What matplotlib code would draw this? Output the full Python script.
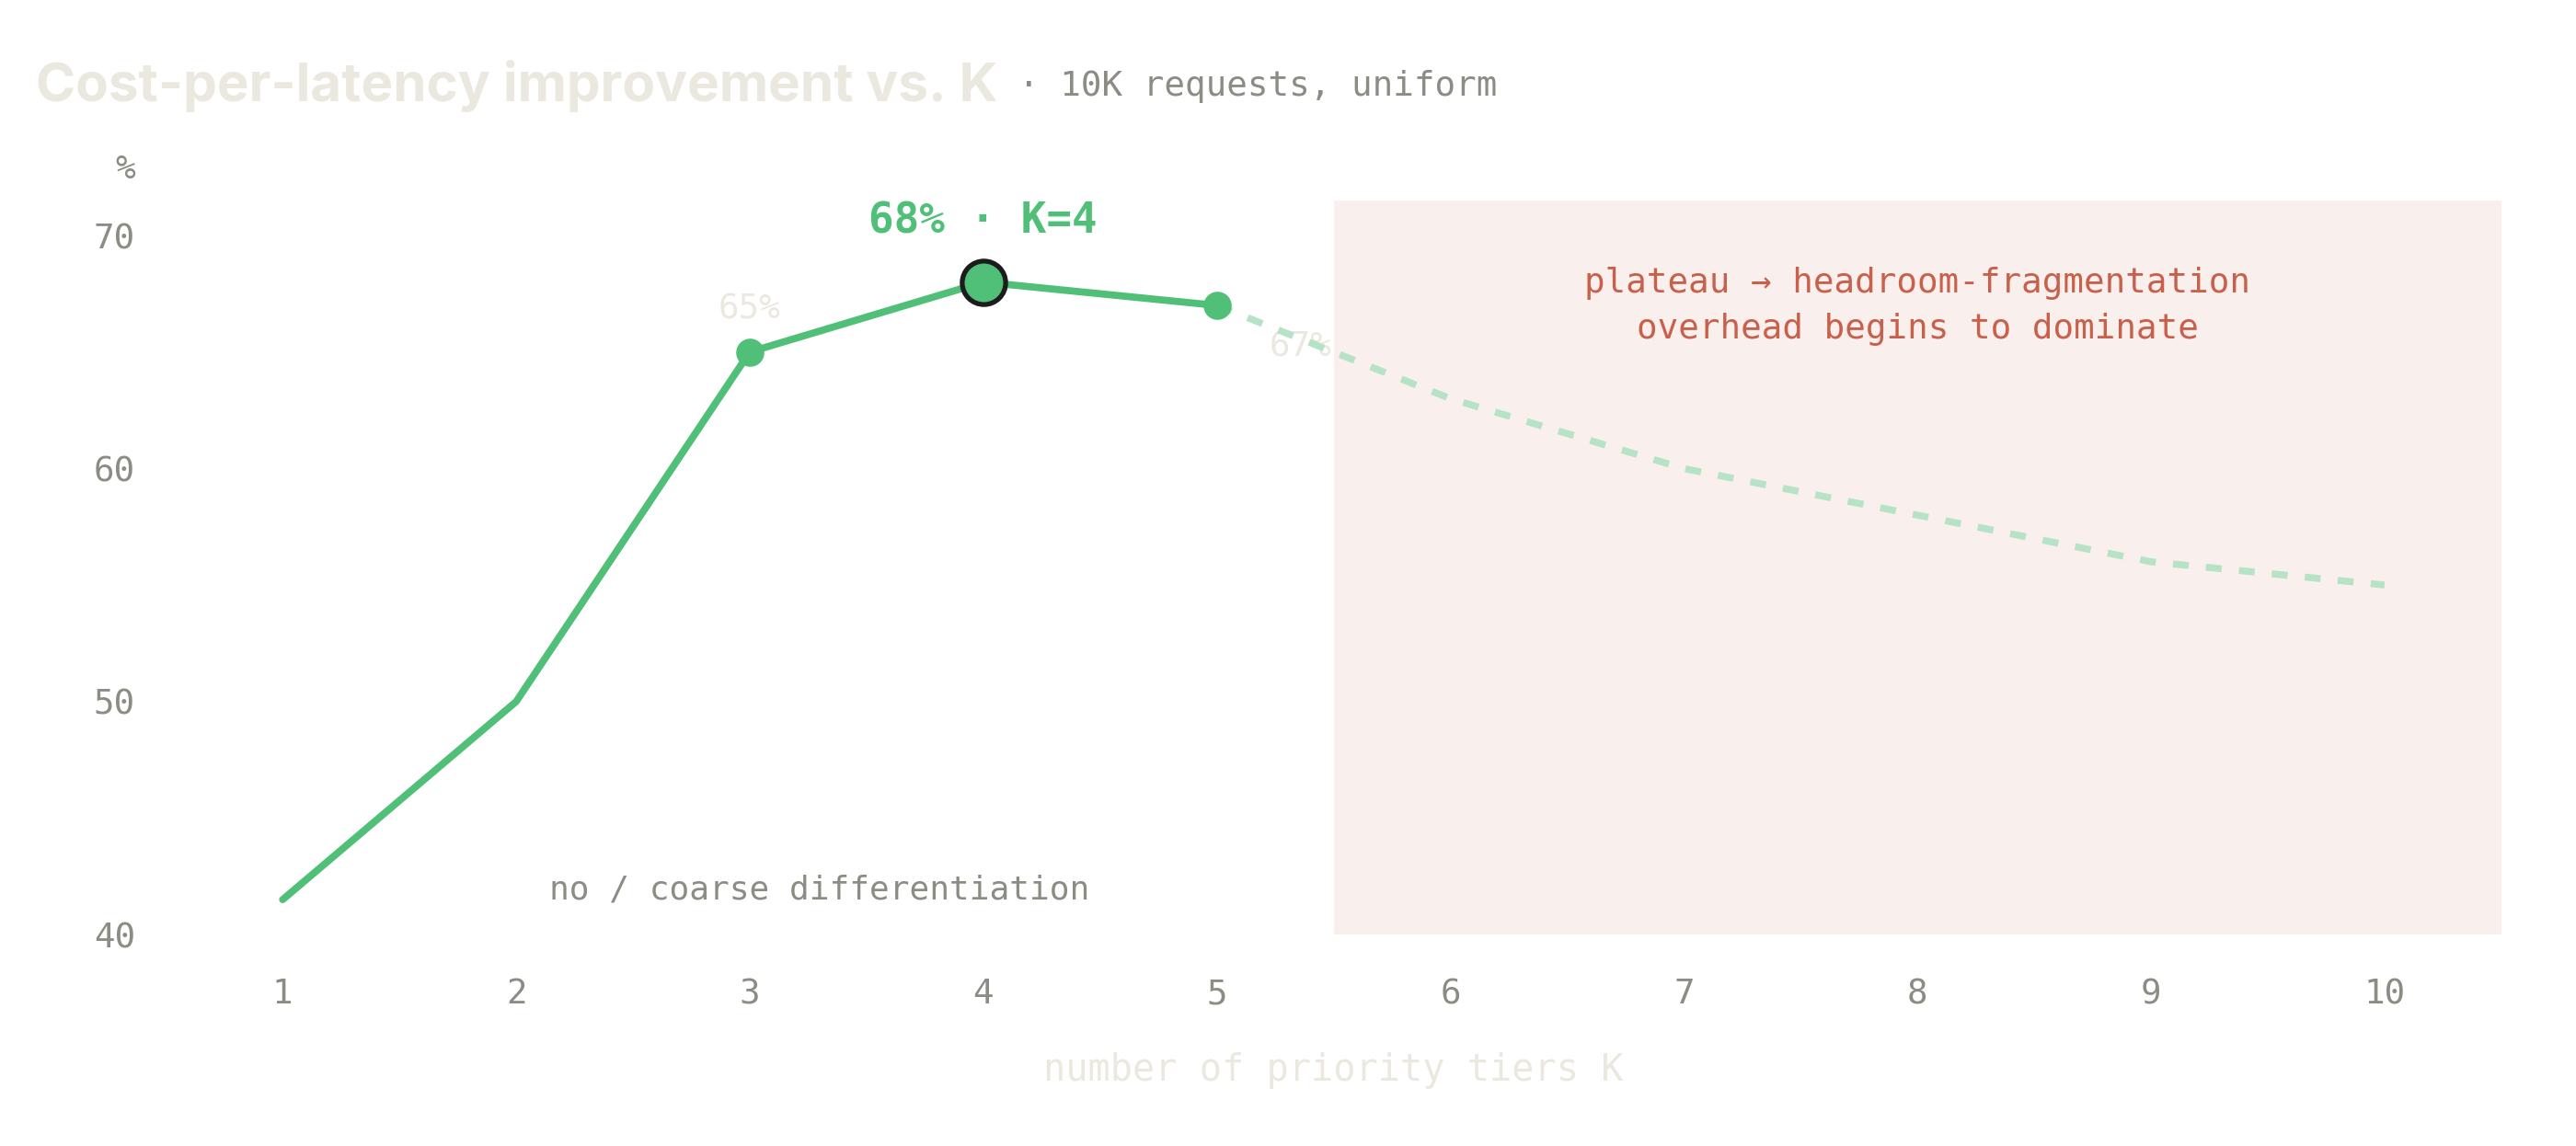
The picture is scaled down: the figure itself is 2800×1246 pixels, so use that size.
import numpy as np
import matplotlib
matplotlib.use("Agg")
import matplotlib.pyplot as plt

# 数据
k_solid = [1, 2, 3, 4, 5]
v_solid = [41.5, 50, 65, 68, 67]
k_dash = [5, 6, 7, 8, 9, 10]
v_dash = [67, 63, 60, 58, 56, 55]
k_marks = [3, 5]
v_marks = [65, 67]
k_best, v_best = 4, 68
x_ticks = list(range(1, 11))
y_ticks = [40, 50, 60, 70]
plateau = (5.5, 10.5)

GREEN = "#50bf78"
GREEN_LT = "#b6e2c6"
PINK = "#f9efec"
RED = "#c8604c"
GRAY = "#8c8c84"
BEIGE = "#ebe8e0"
MONO = "DejaVu Sans Mono"

fig = plt.figure(figsize=(14, 6.23), dpi=200)
ax = fig.add_axes([0.0644, 0.1845, 0.9066, 0.6405])
ax.set_xlim(0.5, 10.5)
ax.set_ylim(40, 71.5)

ax.axvspan(*plateau, color=PINK, lw=0, zorder=0)

ax.plot(k_dash, v_dash, color=GREEN_LT, lw=2.7, ls=(0, (2.3, 2.5)), zorder=2)
ax.plot(k_solid, v_solid, color=GREEN, lw=2.8, solid_capstyle="round",
        solid_joinstyle="round", zorder=3)
ax.plot(k_marks, v_marks, "o", color=GREEN, ms=10, zorder=4)
ax.plot([k_best], [v_best], "o", mfc=GREEN, mec="#1c1c1c", mew=1.9, ms=17, zorder=5)

# 标注
ax.text(k_marks[0], v_marks[0] + 1.1, f"{v_marks[0]}%", color=BEIGE, fontsize=13.5,
        family=MONO, ha="center", va="bottom")
ax.text(k_marks[1] + 0.36, v_marks[1] - 1.8, f"{v_marks[1]}%", color=BEIGE, fontsize=13.5,
        family=MONO, ha="center", va="center", zorder=1)
ax.text(k_best, v_best + 1.7, f"{v_best}% · K={k_best}", color=GREEN, fontsize=16.5,
        family=MONO, weight="bold", ha="center", va="bottom")
ax.text(3.3, 41.9, "no / coarse differentiation", color=GRAY, fontsize=13,
        family=MONO, ha="center", va="center")
ax.text(8.0, 66.95, "plateau → headroom-fragmentation\noverhead begins to dominate",
        color=RED, fontsize=13.5, family=MONO, ha="center", va="center", linespacing=1.5)

ax.set_xticks(x_ticks)
ax.set_yticks(y_ticks)
ax.tick_params(length=0, labelsize=13.5, labelcolor=GRAY, pad=12)
ax.tick_params(axis="x", pad=17)
for lab in ax.get_xticklabels() + ax.get_yticklabels():
    lab.set_family(MONO)
for s in ax.spines.values():
    s.set_visible(False)

ax.set_xlabel("number of priority tiers K", color=BEIGE, fontsize=14.5, family=MONO, labelpad=16)
fig.text(0.0485, 0.852, "%", color=GRAY, fontsize=13, family=MONO, ha="center", va="center")

title = fig.text(0.014, 0.912, "Cost-per-latency improvement vs. K", color=BEIGE,
                 fontsize=21, family="Inter", weight="bold", ha="left", va="baseline")
ax.annotate("· 10K requests, uniform", xy=(1, 0), xycoords=title, xytext=(8, 6.5),
            textcoords="offset points", color=GRAY, fontsize=13.5, family=MONO,
            ha="left", va="baseline", annotation_clip=False)

fig.savefig("out.png", dpi=200, facecolor="white")
